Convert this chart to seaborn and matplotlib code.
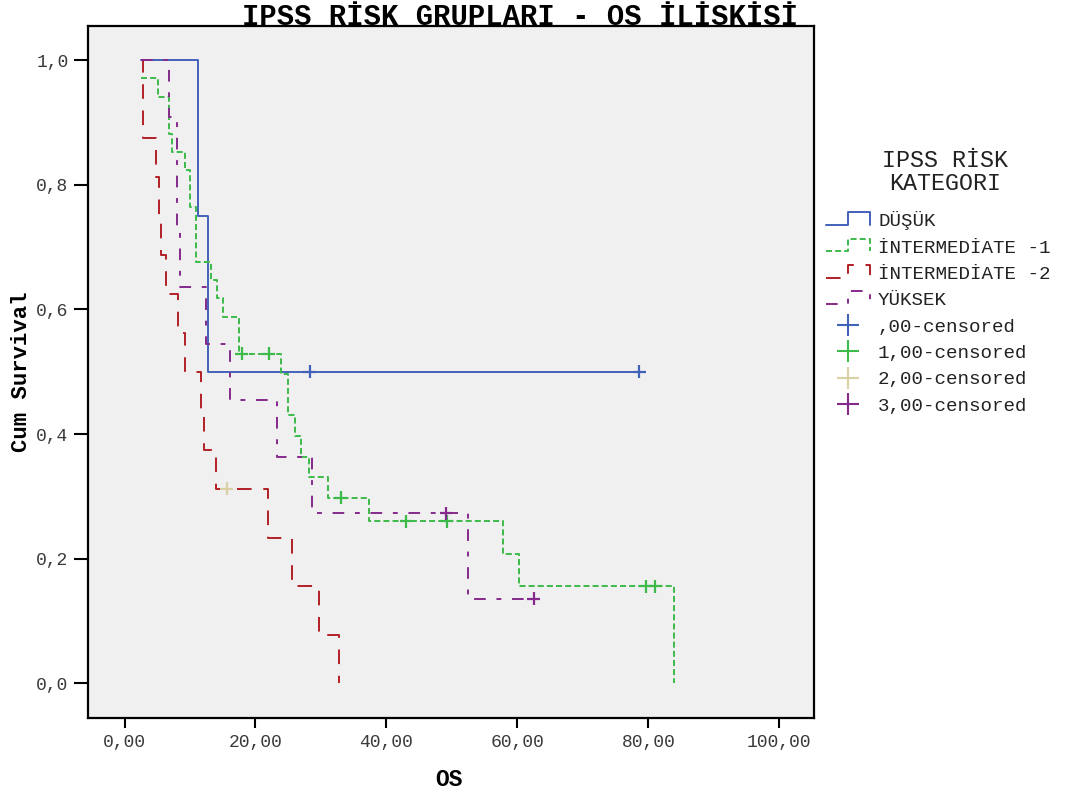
import numpy as np
import pandas as pd
import matplotlib
matplotlib.use("Agg")
import matplotlib.pyplot as plt
import seaborn as sns
from matplotlib.lines import Line2D
from matplotlib.legend_handler import HandlerBase

# ---------------- data ----------------
group_names = ["DÜŞÜK", "İNTERMEDİATE -1", "İNTERMEDİATE -2", "YÜKSEK"]
censor_names = [",00-censored", "1,00-censored", "2,00-censored", "3,00-censored"]

# step points of each Kaplan-Meier curve (time, cumulative survival after that time)
dusuk_t = [2.55, 11.2, 12.8, 78.6]
dusuk_s = [1.0, 0.75, 0.5, 0.5]

int1_t = [2.5, 5.1, 6.8, 7.2, 9.2, 10.0, 10.9, 13.2, 14.1, 15.1, 17.5, 23.9,
          24.9, 26.05, 26.9, 28.1, 31.0, 37.4, 57.8, 60.3, 83.85]
int1_s = [0.971, 0.941, 0.882, 0.853, 0.824, 0.765, 0.676, 0.647, 0.618, 0.588,
          0.529, 0.496, 0.430, 0.397, 0.364, 0.331, 0.298, 0.260, 0.208, 0.156, 0.0]

int2_t = [2.55, 2.78, 4.8, 5.27, 5.53, 6.3, 8.2, 9.2, 11.7, 12.15, 13.9, 21.9,
          25.5, 29.7, 32.7]
int2_s = [1.0, 0.875, 0.8125, 0.75, 0.6875, 0.625, 0.5625, 0.5, 0.4375, 0.375,
          0.3125, 0.234, 0.156, 0.078, 0.0]

yuksek_t = [2.55, 6.75, 8.07, 8.48, 12.45, 16.1, 23.35, 28.7, 52.5, 62.5]
yuksek_s = [1.0, 0.909, 0.727, 0.636, 0.545, 0.455, 0.364, 0.273, 0.136, 0.136]

# censored observations
dusuk_cens_t = [28.3, 78.6]
dusuk_cens_s = [0.5, 0.5]
int1_cens_t = [17.9, 22.0, 33.0, 43.0, 49.2, 79.6, 81.05]
int1_cens_s = [0.529, 0.529, 0.298, 0.260, 0.260, 0.156, 0.156]
int2_cens_t = [15.6]
int2_cens_s = [0.3125]
yuksek_cens_t = [49.1, 62.5]
yuksek_cens_s = [0.273, 0.136]

x_ticks = [0, 20, 40, 60, 80, 100]
x_tick_labels = ["0,00", "20,00", "40,00", "60,00", "80,00", "100,00"]
y_ticks = [0.0, 0.2, 0.4, 0.6, 0.8, 1.0]
y_tick_labels = ["0,0", "0,2", "0,4", "0,6", "0,8", "1,0"]

title_text = "IPSS RİSK GRUPLARI - OS İLİSKİSİ"
legend_title = "IPSS RİSK\nKATEGORI"
x_label = "OS"
y_label = "Cum Survival"

# ---------------- styling ----------------
line_colors = ["#4262BA", "#3CBA4A", "#B21F26", "#86298C"]
censor_colors = ["#4262BA", "#3CBA4A", "#D9D0A3", "#86298C"]
dash_patterns = ["", (3.1, 1.6), (7.5, 6.0), (6.0, 5.5, 2.5, 5.5)]

sns.set_theme(style="white")
plt.rcParams["font.family"] = ["Liberation Mono", "DejaVu Sans Mono"]

frames = []
for name, t, s in zip(group_names, [dusuk_t, int1_t, int2_t, yuksek_t],
                      [dusuk_s, int1_s, int2_s, yuksek_s]):
    frames.append(pd.DataFrame({"OS": t, "surv": s, "grp": name}))
curves = pd.concat(frames, ignore_index=True)

cframes = []
for name, t, s in zip(censor_names,
                      [dusuk_cens_t, int1_cens_t, int2_cens_t, yuksek_cens_t],
                      [dusuk_cens_s, int1_cens_s, int2_cens_s, yuksek_cens_s]):
    cframes.append(pd.DataFrame({"OS": t, "surv": s, "grp": name}))
cens = pd.concat(cframes, ignore_index=True)

W, H = 1073, 799
fig = plt.figure(figsize=(W / 100, H / 100), dpi=100)
ax = fig.add_axes([88 / W, 1 - 718 / H, 726 / W, 692 / H])
ax.set_facecolor("#F0F0F0")

LW = 1.4
sns.lineplot(data=curves, x="OS", y="surv", hue="grp", style="grp",
             hue_order=group_names, style_order=group_names,
             palette=dict(zip(group_names, line_colors)),
             dashes=dict(zip(group_names, dash_patterns)),
             estimator=None, sort=False, drawstyle="steps-post",
             linewidth=LW, legend=False, ax=ax)

sns.scatterplot(data=cens, x="OS", y="surv", hue="grp", hue_order=censor_names,
                palette=dict(zip(censor_names, censor_colors)),
                marker="+", s=85, linewidth=1.6, legend=False, ax=ax, zorder=5)

ax.set_xlim(-5.58, 105.3)
ax.set_ylim(-0.0557, 1.055)
ax.set_xticks(x_ticks)
ax.set_xticklabels(x_tick_labels)
ax.set_yticks(y_ticks)
ax.set_yticklabels(y_tick_labels)
ax.tick_params(axis="y", direction="out", length=10, width=1.5, pad=4,
               labelsize=13, labelcolor="#3a3a3a", color="black", left=True)
ax.tick_params(axis="x", direction="out", length=7.2, width=1.5, pad=4.5,
               labelsize=13, labelcolor="#3a3a3a", color="black", bottom=True)
for sp in ax.spines.values():
    sp.set_visible(True)
    sp.set_color("black")
    sp.set_linewidth(1.6)
ax.grid(False)

ax.set_xlabel(x_label, fontsize=16.5, fontweight="bold", color="black")
ax.set_ylabel(y_label, fontsize=16, fontweight="bold", color="black")
ax.xaxis.set_label_coords((449 - 88) / 726, -0.072)
ax.yaxis.set_label_coords(-0.077, (718 - 372) / 692)

fig.text(519.5 / W, 1 - 25 / H, title_text, ha="center", va="baseline",
         fontsize=20.8, fontweight="bold", color="black", zorder=10)

fig.text(945 / W, 1 - 172 / H, legend_title, ha="center", va="center",
         fontsize=16.8, color="#222222", linespacing=1.0, multialignment="center")


class StepHandler(HandlerBase):
    def create_artists(self, legend, orig, xd, yd, w, h, fs, trans):
        x0, y0 = -xd, -yd
        xs = [x0, x0 + 0.5 * w, x0 + 0.5 * w, x0 + w, x0 + w]
        lo, hi = y0 + 0.1 * h, y0 + 1.05 * h
        ys = [lo, lo, hi, hi, lo]
        ln = Line2D(xs, ys)
        ln.update_from(orig)
        ln.set_data(xs, ys)
        ln.set_transform(trans)
        return [ln]


step_handles = []
for c, d in zip(line_colors, dash_patterns):
    h = Line2D([], [], color=c, lw=LW)
    if d:
        h.set_dashes(d)
    step_handles.append(h)
cens_handles = [Line2D([], [], ls="none", marker="+", markersize=16, mew=1.5, color=c)
                for c in censor_colors]

FS = 13.8
leg = ax.legend(step_handles + cens_handles, group_names + censor_names,
                handler_map={h: StepHandler() for h in step_handles},
                loc="upper left", bbox_to_anchor=(826 / W, 1 - 211.5 / H),
                bbox_transform=fig.transFigure, frameon=False, borderpad=0,
                borderaxespad=0, handlelength=44 / (FS * 100 / 72),
                handletextpad=8 / (FS * 100 / 72),
                labelspacing=0.465, fontsize=FS)
for t in leg.get_texts():
    t.set_color("#222222")

fig.savefig("out.png", dpi=100, facecolor="white")
